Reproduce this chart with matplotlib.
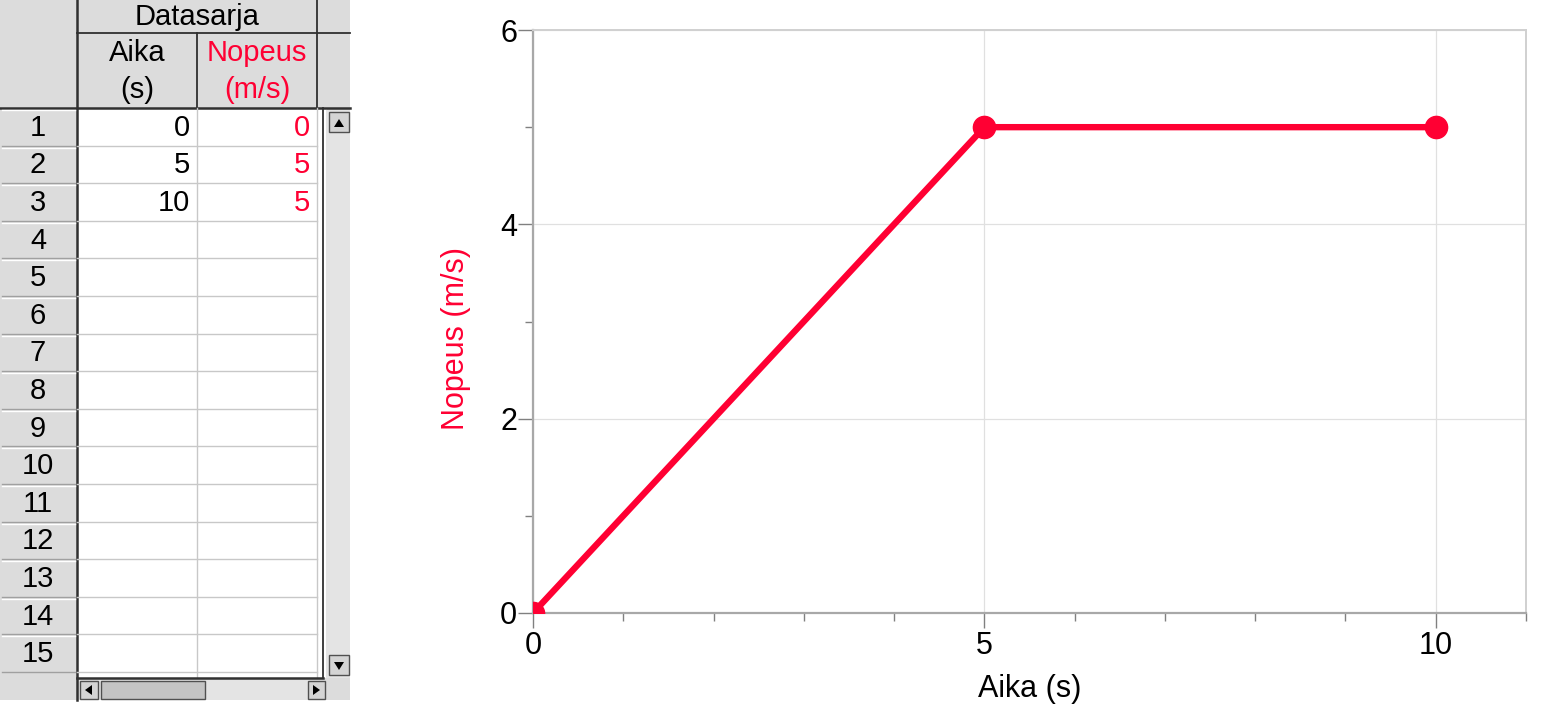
import matplotlib
matplotlib.use("Agg")
import matplotlib.pyplot as plt
from matplotlib.patches import Rectangle, Polygon
from matplotlib.ticker import MultipleLocator

plt.rcParams["font.family"] = ["Liberation Sans", "DejaVu Sans"]

# data
aika = [0, 5, 10]
nopeus = [0, 5, 5]
row_numbers = list(range(1, 16))
series_name = "Datasarja"
col_x = ("Aika", "(s)")
col_y = ("Nopeus", "(m/s)")

RED = "#ff0033"
W, H = 1567, 724
FS_TAB = 21
FS = 22

fig = plt.figure(figsize=(W / 100, H / 100), dpi=100)

# ---- table on the left, drawn in pixel coordinates ----
tab = fig.add_axes([0, 0, 1, 1])
tab.set_xlim(0, W)
tab.set_ylim(H, 0)
tab.axis("off")

GRAY = "#dcdcdc"
LINE = "#c8c8c8"
DARK = "#303030"

top_body = 108
row_h = 37.6
body_bottom = top_body + row_h * len(row_numbers) + 6

# backgrounds
tab.add_patch(Rectangle((0, 0), 350, 700, facecolor=GRAY, edgecolor="none"))
tab.add_patch(Rectangle((77, top_body), 250, body_bottom - top_body,
                        facecolor="white", edgecolor="none"))

# header texts
tab.text(197, 17, series_name, ha="center", va="center", fontsize=FS_TAB)
tab.text(137, 53, col_x[0], ha="center", va="center", fontsize=FS_TAB)
tab.text(137, 90, col_x[1], ha="center", va="center", fontsize=FS_TAB)
tab.text(257, 53, col_y[0], ha="center", va="center", fontsize=FS_TAB, color=RED)
tab.text(257, 90, col_y[1], ha="center", va="center", fontsize=FS_TAB, color=RED)

# header lines
tab.plot([77, 350], [33, 33], color=DARK, lw=1.3)
tab.plot([197, 197], [33, top_body], color=DARK, lw=1.3)
tab.plot([317, 317], [0, top_body], color=DARK, lw=1.3)
tab.plot([0, 350], [top_body, top_body], color=DARK, lw=1.8)
tab.plot([77, 77], [0, 700], color=DARK, lw=1.8)

# rows
for i, n in enumerate(row_numbers):
    y0 = top_body + i * row_h
    yc = y0 + row_h / 2
    tab.plot([2, 75], [y0 + 2, y0 + 2], color="white", lw=1)
    tab.plot([2, 75], [y0 + row_h, y0 + row_h], color="#a0a0a0", lw=1)
    tab.plot([77, 317], [y0 + row_h, y0 + row_h], color=LINE, lw=1)
    tab.text(38, yc + 1, str(n), ha="center", va="center", fontsize=FS_TAB)
    if i < len(aika):
        tab.text(190, yc + 1, str(aika[i]), ha="right", va="center", fontsize=FS_TAB)
        tab.text(310, yc + 1, str(nopeus[i]), ha="right", va="center",
                 fontsize=FS_TAB, color=RED)

tab.plot([197, 197], [top_body, body_bottom], color=LINE, lw=1)
tab.plot([317, 317], [top_body, body_bottom], color=LINE, lw=1)
tab.plot([323, 323], [top_body, body_bottom], color=DARK, lw=1.3)
tab.plot([77, 323], [body_bottom, body_bottom], color=DARK, lw=1.8)

# scrollbar buttons
def button(x, y, w, h, tri):
    tab.add_patch(Rectangle((x, y), w, h, facecolor="#d4d4d4",
                            edgecolor="#505050", lw=1))
    tab.add_patch(Polygon(tri, closed=True, facecolor="black", edgecolor="none"))

# vertical scrollbar
tab.add_patch(Rectangle((326, top_body + 2), 24, body_bottom - top_body - 2,
                        facecolor="#e4e4e4", edgecolor="none"))
button(329, 112, 20, 20, [(334, 127), (344, 127), (339, 119)])
button(329, 655, 20, 20, [(334, 662), (344, 662), (339, 670)])

# horizontal scrollbar
hb = body_bottom
tab.add_patch(Rectangle((78, hb + 2), 247, 20, facecolor="#e4e4e4", edgecolor="none"))
button(80, hb + 3, 18, 18, [(92, hb + 7), (92, hb + 17), (85, hb + 12)])
tab.add_patch(Rectangle((101, hb + 3), 104, 18, facecolor="#c4c4c4",
                        edgecolor="#505050", lw=1))
button(308, hb + 3, 17, 18, [(313, hb + 7), (313, hb + 17), (320, hb + 12)])

# ---- graph ----
ax = fig.add_axes([533 / W, (H - 613) / H, (1526 - 533) / W, (613 - 30) / H])
ax.plot(aika, nopeus, color=RED, lw=4.6, marker="o", markersize=16,
        solid_capstyle="butt", zorder=3)
ax.set_xlim(0, 11)
ax.set_ylim(0, 6)
ax.xaxis.set_major_locator(MultipleLocator(5))
ax.xaxis.set_minor_locator(MultipleLocator(1))
ax.yaxis.set_major_locator(MultipleLocator(2))
ax.yaxis.set_minor_locator(MultipleLocator(1))
ax.grid(True, which="major", color="#e0e0e0", lw=0.9)
ax.set_axisbelow(True)

for side in ("left", "bottom"):
    ax.spines[side].set_color("#a8a8a8")
    ax.spines[side].set_linewidth(1.6)
for side in ("top", "right"):
    ax.spines[side].set_color("#d0d0d0")
    ax.spines[side].set_linewidth(1.4)

ax.tick_params(which="major", length=11, width=1, color="#808080",
               labelsize=FS, pad=0.5)
ax.tick_params(axis="x", which="major", pad=2)
ax.tick_params(which="minor", length=5.5, width=1, color="#808080")
ax.tick_params(axis="x", which="both", top=False)
ax.tick_params(axis="y", which="both", right=False)

ax.set_xlabel("Aika (s)", fontsize=FS)
ax.xaxis.set_label_coords(0.5, -0.105)
ax.set_ylabel("Nopeus (m/s)", fontsize=FS, color=RED)
ax.yaxis.set_label_coords(-0.062, 0.47)

fig.savefig("out.png", dpi=100)
